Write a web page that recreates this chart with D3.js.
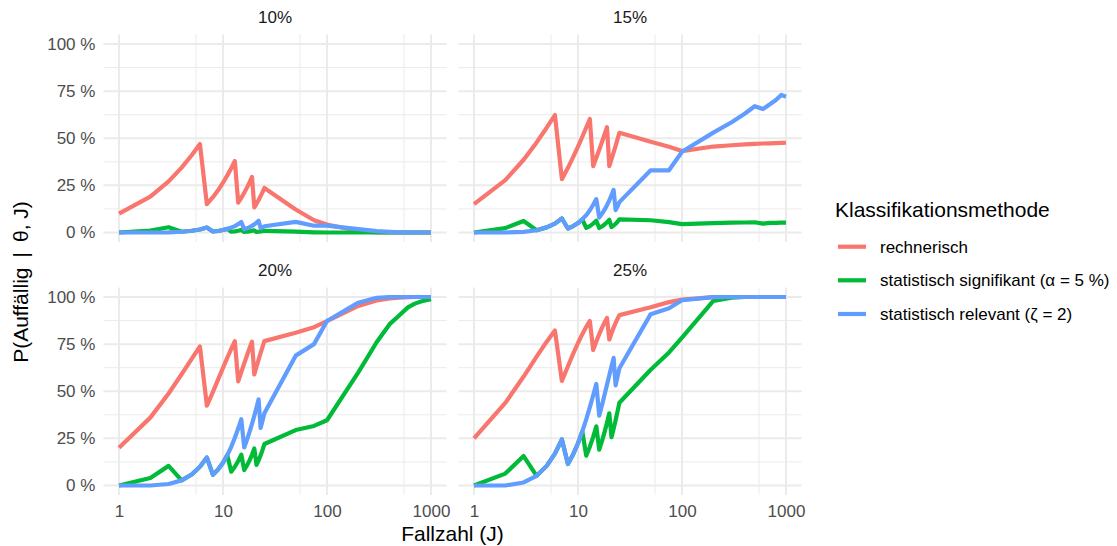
<!DOCTYPE html>
<html>
<head>
<meta charset="utf-8">
<style>
  body { margin: 0; background: #fff; }
  svg { font-family: "Liberation Sans", Arial, sans-serif; }
  .tick text { fill: #4d4d4d; font-size: 17px; }
</style>
</head>
<body>
<svg width="1117" height="546"></svg>
<script src="https://d3js.org/d3.v7.min.js"></script>
<script>
// Fallzahl J (x-Werte)
const fallzahl = [1,2,3,4,5,6,7,8,9,10,11,12,13,14,15,16,17,18,19,20,21,22,23,24,25,
                  50,75,100,200,300,400,500,600,700,800,900,1000];

const anteile = ["10%", "15%", "20%", "25%"];
const methoden = ["rechnerisch", "statistisch signifikant (\u03b1 = 5 %)", "statistisch relevant (\u03b6 = 2)"];
const farben = ["#F8766D", "#00BA38", "#619CFF"];

// Werte in Prozent
const rechnerisch10 = [10.0,19.0,27.1,34.4,41.0,46.9, 15.0,18.7,22.5,26.4,30.3,34.1,37.9, 15.8,18.4,21.1,23.8,26.6,29.5,
  13.3,15.2,17.2,19.3,21.4,23.6, 12.2,6.5,4.2,0.8,0.1,0,0,0,0,0,0,0];
const signifikant10 = [0,1.0,2.8, 0.4,0.9,1.6,2.6, 0.5,0.8,1.3,1.9, 0.4,0.6,0.9,1.3, 0.3,0.5,0.6,0.9,1.1,
  0.3,0.4,0.6,0.7,0.9, 0.4,0.1,0,0,0,0,0,0,0,0,0,0];
const relevant10 = [0,0,0.1,0.4,0.9,1.6,2.6, 0.5,0.8,1.3,1.9,2.6,3.4,4.4,5.6, 1.7,2.2,2.8,3.5,4.3,5.2,6.2,
  2.3,2.8,3.3, 5.6,3.6,3.6,1.8,0.7,0.3,0.1,0,0,0,0,0];

const rechnerisch15 = [15.0,27.8,38.6,47.8,55.6,62.3, 28.3,34.3,40.1,45.6,50.8,55.7,60.2, 35.2,39.6,43.9,48.0,52.0,55.9,
  35.2,38.9,42.5,46.0,49.5,52.9, 48.1,45.5,43.2,45.6,46.3,46.7,47.0,47.2,47.3,47.4,47.5,47.6];
const signifikant15 = [0,2.3,6.1, 1.2,2.7,4.7,7.4, 2.1,3.4,5.0,7.0, 2.4,3.4,4.7,6.2, 2.4,3.2,4.2,5.4,6.7,
  2.9,3.7,4.6,5.7,7.0, 6.5,5.5,4.4,5.0,5.2,5.3,5.4,4.7,5.1,5.1,5.2,5.2];
const relevant15 = [0,0,0.3,1.2,2.7,4.7,7.4, 2.1,3.4,5.0,7.0,9.2,11.8,14.7,17.7, 7.9,9.9,12.1,14.5,17.0,19.8,22.6,
  11.9,13.9,16.1, 33.0,33.0,42.8,53.0,58.5,63.0,67.0,65.5,68.0,70.3,73.0,72.0];

const rechnerisch20 = [20.0,36.0,48.8,59.0,67.2,73.8, 42.3,49.7,56.4,62.4,67.8,72.5,76.6, 55.2,60.2,64.8,69.0,72.9,76.3,
  58.9,63.0,66.8,70.4,73.6,76.6, 81.0,84.0,87.2,95.3,98.2,99.3,99.7,99.9,100,100,100,100];
const signifikant20 = [0,4.0,10.4, 2.7,5.8,9.9,14.8, 5.6,8.6,12.1,16.1, 7.3,9.9,13.0,16.4, 8.2,10.6,13.3,16.3,19.6,
  10.9,13.3,16.0,18.9,22.0, 29.4,31.6,34.6,60.0,76.0,85.6,90.5,94.5,96.5,97.6,98.3,98.8];
const relevant20 = [0,0,0.8,2.7,5.8,9.9,14.8, 5.6,8.6,12.1,16.1,20.5,25.3,30.2,35.2, 20.2,24.2,28.4,32.7,37.0,41.4,45.7,
  30.5,34.4,38.3, 68.9,75.0,87.3,97.0,99.6,99.9,100,100,100,100,100,100];

const rechnerisch25 = [25.0,43.8,57.8,68.4,76.3,82.2, 55.5,63.3,70.0,75.6,80.3,84.2,87.3, 71.9,76.4,80.3,83.6,86.5,88.9,
  77.5,80.8,83.8,86.3,88.5,90.4, 94.6,97.3,98.6,99.9,100,100,100,100,100,100,100,100];
const signifikant25 = [0,6.3,15.6, 5.1,10.4,16.9,24.4, 11.4,16.6,22.4,28.7, 15.8,20.6,25.8,31.4, 19.0,23.5,28.3,33.2,38.3,
  25.6,30.1,34.6,39.3,43.9, 61.4,70.6,78.5,97.9,99.6,100,100,100,100,100,100,100];
const relevant25 = [0,0,1.6,5.1,10.4,16.9,24.4, 11.4,16.6,22.4,28.7,35.1,41.6,47.9,53.9, 37.0,42.6,48.1,53.5,58.5,63.3,67.7,
  53.1,57.8,62.2, 90.9,94.0,98.3,99.9,100,100,100,100,100,100,100,100];

const xBreaks = [1, 10, 100, 1000];
const xMinor = [5.5, 55, 550];
const yBreaks = [0, 25, 50, 75, 100];
const yMinor = [12.5, 37.5, 62.5, 87.5];

const panels = [
  {label: anteile[0], reihen: [rechnerisch10, signifikant10, relevant10]},
  {label: anteile[1], reihen: [rechnerisch15, signifikant15, relevant15]},
  {label: anteile[2], reihen: [rechnerisch20, signifikant20, relevant20]},
  {label: anteile[3], reihen: [rechnerisch25, signifikant25, relevant25]}
];

const svg = d3.select("svg");
const panelW = 343.2, panelH = 207.3;
const lefts = [103.4, 458.4], tops = [34.6, 287.6];

const x = d3.scaleLog().domain([Math.pow(10, -0.15), Math.pow(10, 3.15)]).range([0, panelW]);
const y = d3.scaleLinear().domain([-5, 105]).range([panelH, 0]);

const line = d3.line()
  .x(function(d) { return x(d[0]); })
  .y(function(d) { return y(d[1]); });

panels.forEach(function(p, i) {
  const col = i % 2, row = Math.floor(i / 2);
  const g = svg.append("g")
    .attr("transform", "translate(" + lefts[col] + "," + tops[row] + ")");

  // minor grid
  g.selectAll(".vmin").data(xMinor).enter().append("line")
    .attr("x1", d => x(d)).attr("x2", d => x(d)).attr("y1", 0).attr("y2", panelH)
    .attr("stroke", "#ebebeb").attr("stroke-width", 1);
  g.selectAll(".hmin").data(yMinor).enter().append("line")
    .attr("y1", d => y(d)).attr("y2", d => y(d)).attr("x1", 0).attr("x2", panelW)
    .attr("stroke", "#ebebeb").attr("stroke-width", 1);
  // major grid
  g.selectAll(".vmaj").data(xBreaks).enter().append("line")
    .attr("x1", d => x(d)).attr("x2", d => x(d)).attr("y1", 0).attr("y2", panelH)
    .attr("stroke", "#ebebeb").attr("stroke-width", 2);
  g.selectAll(".hmaj").data(yBreaks).enter().append("line")
    .attr("y1", d => y(d)).attr("y2", d => y(d)).attr("x1", 0).attr("x2", panelW)
    .attr("stroke", "#ebebeb").attr("stroke-width", 2);

  // lines
  p.reihen.forEach(function(werte, k) {
    g.append("path")
      .datum(fallzahl.map((f, j) => [f, werte[j]]))
      .attr("fill", "none")
      .attr("stroke", farben[k])
      .attr("stroke-width", 4.2)
      .attr("stroke-linejoin", "round")
      .attr("d", line);
  });

  // strip
  g.append("text")
    .attr("x", panelW / 2).attr("y", -16)
    .attr("text-anchor", "middle")
    .attr("dominant-baseline", "middle")
    .attr("fill", "#1a1a1a").attr("font-size", "17px")
    .text(p.label);

  if (row === 1) {
    const ax = g.append("g")
      .attr("transform", "translate(0," + panelH + ")")
      .call(d3.axisBottom(x).tickValues(xBreaks).tickFormat(d3.format("d")).tickSize(0).tickPadding(10));
    ax.select(".domain").remove();
  }
  if (col === 0) {
    const ay = g.append("g")
      .call(d3.axisLeft(y).tickValues(yBreaks).tickFormat(d => d + " %").tickSize(0).tickPadding(8));
    ay.select(".domain").remove();
  }
});

// axis titles
svg.append("text")
  .attr("x", (lefts[0] + lefts[1] + panelW) / 2).attr("y", 541)
  .attr("text-anchor", "middle").attr("font-size", "21px").attr("fill", "#000")
  .text("Fallzahl (J)");
svg.append("text")
  .attr("transform", "translate(28,282) rotate(-90)")
  .attr("text-anchor", "middle").attr("font-size", "21px").attr("fill", "#000")
  .style("white-space", "pre")
  .text("P(Auffällig \u2009|\u2009 \u03b8, J)");

// legend
const leg = svg.append("g").attr("transform", "translate(835,0)");
leg.append("text").attr("x", 0).attr("y", 217).attr("font-size", "21px").attr("fill", "#000")
  .text("Klassifikationsmethode");
const keysY = [246.7, 280.3, 314];
methoden.forEach(function(m, k) {
  leg.append("line")
    .attr("x1", 3).attr("x2", 31).attr("y1", keysY[k]).attr("y2", keysY[k])
    .attr("stroke", farben[k]).attr("stroke-width", 4.2);
  leg.append("text")
    .attr("x", 45).attr("y", keysY[k]).attr("dy", "0.35em")
    .attr("font-size", "17px").attr("fill", "#000")
    .text(m);
});
</script>
</body>
</html>
